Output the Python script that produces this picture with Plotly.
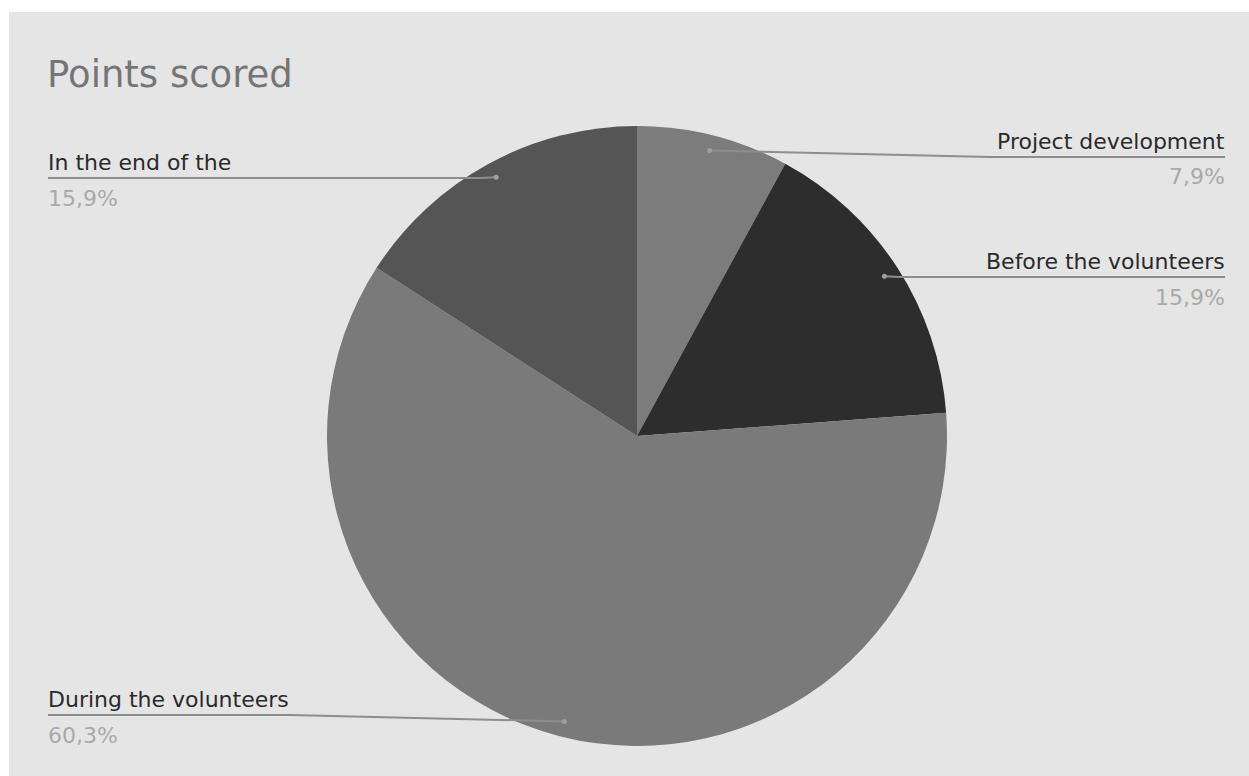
import math
import plotly.graph_objects as go

# ---- data ----
categories = ["Project development", "Before the volunteers", "During the volunteers", "In the end of the"]
values = [5, 10, 38, 10]
pct_labels = ["7,9%", "15,9%", "60,3%", "15,9%"]
slice_colors = ["#7c7c7c", "#2d2d2d", "#7a7a7a", "#555555"]
title_text = "Points scored"

# ---- layout constants (pixels) ----
W, H = 1249, 776
CX, CY, R = 637, 436, 310
# label placement: side, leader-line y, text anchor x, bend x
label_layout = [
    dict(side="right", line_y=157, text_x=1225, bend_x=990),
    dict(side="right", line_y=277, text_x=1225, bend_x=900),
    dict(side="left", line_y=715, text_x=48, bend_x=290),
    dict(side="left", line_y=178, text_x=48, bend_x=480),
]

def px(x):
    return x / W

def py(y):
    return 1 - y / H

fig = go.Figure()
fig.add_trace(go.Pie(
    labels=categories,
    values=values,
    sort=False,
    direction="clockwise",
    rotation=0,
    textinfo="none",
    hoverinfo="label+percent",
    marker=dict(colors=slice_colors, line=dict(width=0)),
    showlegend=False,
    domain=dict(x=[px(CX - R), px(CX + R)], y=[py(CY + R), py(CY - R)]),
))

shapes = [
    dict(type="rect", xref="paper", yref="paper", x0=px(9), x1=1.01, y0=-0.01, y1=py(12),
         fillcolor="#e5e5e5", line=dict(width=0), layer="below"),
]
annotations = [
    dict(text=title_text, xref="paper", yref="paper", x=px(45), y=py(75),
         xanchor="left", yanchor="middle", showarrow=False,
         font=dict(family="DejaVu Sans", size=37, color="#757575")),
]

total = sum(values)
cum = 0.0
for cat, val, pct, lay in zip(categories, values, pct_labels, label_layout):
    mid = (cum + val / 2) / total * 2 * math.pi
    cum += val
    dx = CX + 0.95 * R * math.sin(mid)
    dy = CY - 0.95 * R * math.cos(mid)
    ly = lay["line_y"]
    tx = lay["text_x"]
    path = f"M {px(dx)},{py(dy)} L {px(lay['bend_x'])},{py(ly)} L {px(tx)},{py(ly)}"
    shapes.append(dict(type="path", xref="paper", yref="paper", path=path,
                       line=dict(color="#8e8e8e", width=2)))
    r = 2.5
    shapes.append(dict(type="circle", xref="paper", yref="paper",
                       x0=px(dx - r), x1=px(dx + r), y0=py(dy + r), y1=py(dy - r),
                       fillcolor="#a0a0a0", line=dict(width=0)))
    anchor = "right" if lay["side"] == "right" else "left"
    annotations.append(dict(text=cat, xref="paper", yref="paper", x=px(tx), y=py(ly - 16),
                            xanchor=anchor, yanchor="middle", showarrow=False, xshift=2 if anchor == "right" else -2,
                            font=dict(family="DejaVu Sans", size=22, color="#2a2a2a")))
    annotations.append(dict(text=pct, xref="paper", yref="paper", x=px(tx), y=py(ly + 20),
                            xanchor=anchor, yanchor="middle", showarrow=False, xshift=2 if anchor == "right" else -2,
                            font=dict(family="DejaVu Sans", size=22, color="#a9a9a9")))

fig.update_layout(
    width=W, height=H,
    margin=dict(l=0, r=0, t=0, b=0),
    paper_bgcolor="#ffffff",
    plot_bgcolor="#e5e5e5",
    shapes=shapes,
    annotations=annotations,
)

fig.write_html("out.html",
               config={"displayModeBar": False},
               post_script="document.body.style.margin='0';document.body.style.overflow='hidden';"
                           "document.body.style.background='#e5e5e5';"
                           "document.documentElement.style.background='#e5e5e5';")
